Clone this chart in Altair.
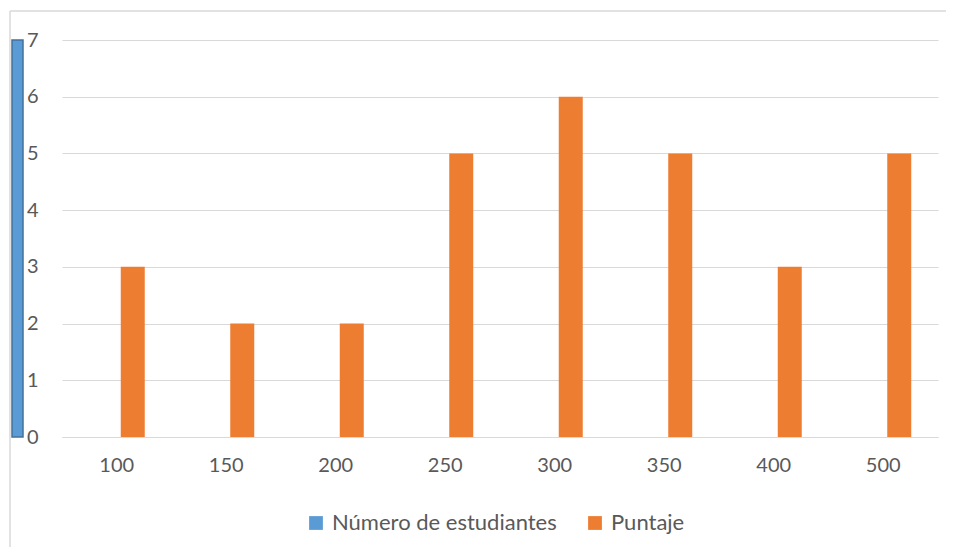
import altair as alt
import pandas as pd

categorias = ["100", "150", "200", "250", "300", "350", "400", "500"]
puntaje = [3, 2, 2, 5, 6, 5, 3, 5]
series = ["Número de estudiantes", "Puntaje"]
colores = ["#5B9BD5", "#ED7D31"]
y_ticks = [0, 1, 2, 3, 4, 5, 6, 7]
barra_izquierda = [7]

df = pd.DataFrame({"cat": categorias, "valor": puntaje, "serie": ["Puntaje"] * len(categorias)})
df_blue = pd.DataFrame({"valor": barra_izquierda, "base": [0]})
df_frame = pd.DataFrame({"a": [0]})

W, H = 876, 397
FONT = "Lato"
GRAY = "#595959"

y_scale = alt.Scale(domain=[0, 7], nice=False)

bars = alt.Chart(df).mark_bar(width=24, xOffset=16).encode(
    x=alt.X("cat:N", sort=categorias, scale=alt.Scale(paddingInner=0, paddingOuter=0),
            axis=alt.Axis(title=None, labelAngle=0, ticks=False, domainColor="#D9D9D9",
                          labelColor=GRAY, labelFontSize=20, labelFont=FONT, labelPadding=18,
                          grid=False)),
    y=alt.Y("valor:Q", scale=y_scale,
            axis=alt.Axis(title=None, values=y_ticks, format="d", ticks=False, domain=False,
                          labelColor=GRAY, labelFontSize=20, labelFont=FONT, labelPadding=24,
                          gridColor="#D9D9D9", gridWidth=1)),
    color=alt.Color("serie:N", scale=alt.Scale(domain=series, range=colores),
                    legend=alt.Legend(orient="none", legendX=243, legendY=472, direction="horizontal",
                                      title=None, symbolType="square", symbolSize=190,
                                      symbolStrokeWidth=0, labelFontSize=22, labelFont=FONT,
                                      labelColor=GRAY, columnPadding=27, padding=0,
                                      labelLimit=400, labelOffset=5)),
)

blue = alt.Chart(df_blue).mark_rect(color="#5B9BD5", stroke="#41719C", strokeWidth=1.5).encode(
    x=alt.value(-50), x2=alt.value(-39),
    y=alt.Y("valor:Q", scale=y_scale), y2="base:Q",
)

frame_left = alt.Chart(df_frame).mark_rule(color="#D9D9D9", strokeWidth=1.5).encode(
    x=alt.value(-52), y=alt.value(-29), y2=alt.value(520))
frame_top = alt.Chart(df_frame).mark_rule(color="#D9D9D9", strokeWidth=1.5).encode(
    x=alt.value(-52), x2=alt.value(900), y=alt.value(-29))

chart = alt.layer(frame_left, frame_top, bars, blue).properties(
    width=W, height=H,
    background="white",
    autosize=alt.AutoSizeParams(type="none"),
    padding={"left": 54, "top": 32, "right": 8, "bottom": 110},
).configure_view(strokeWidth=0, stroke=None)

chart.save("out.html", embed_options={"renderer": "svg", "actions": False})
